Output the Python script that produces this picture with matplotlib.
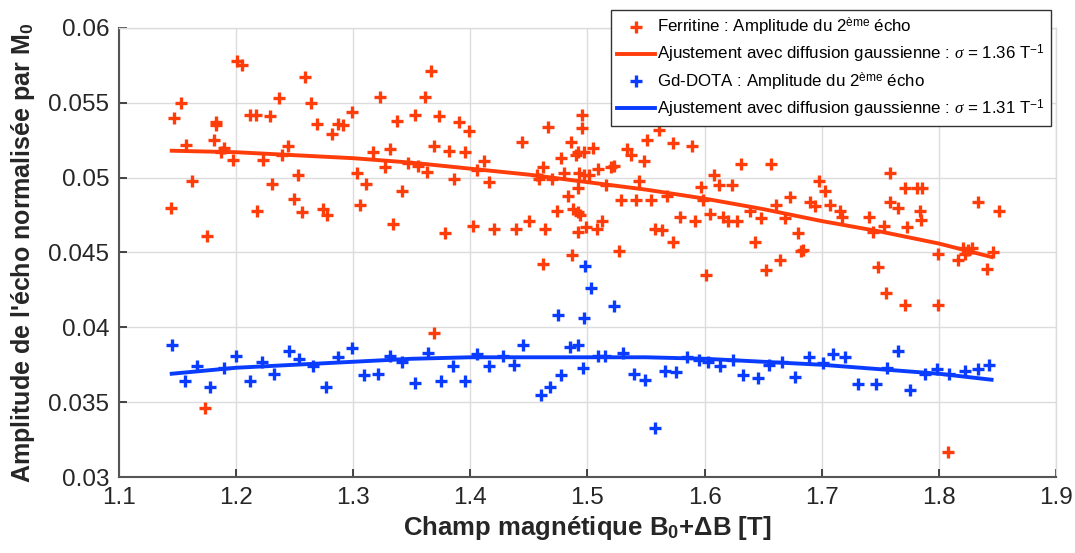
import matplotlib
matplotlib.use("Agg")
import matplotlib.pyplot as plt
import numpy as np

plt.rcParams['font.family'] = ['Liberation Sans', 'DejaVu Sans']
plt.rcParams['mathtext.fontset'] = 'custom'
plt.rcParams['mathtext.rm'] = 'Liberation Sans'
plt.rcParams['mathtext.bf'] = 'Liberation Sans:bold'
plt.rcParams['mathtext.it'] = 'Liberation Serif:italic'

# Ferritine: measured amplitude of 2nd echo
ferr_x = [1.144, 1.147, 1.153, 1.157, 1.162, 1.173, 1.175, 1.181, 1.183, 1.183,
          1.187, 1.190, 1.197, 1.201, 1.205, 1.212, 1.217, 1.218, 1.223, 1.229,
          1.231, 1.237, 1.239, 1.244, 1.249, 1.253, 1.256, 1.259, 1.264, 1.269,
          1.274, 1.278, 1.282, 1.287, 1.291, 1.299, 1.303, 1.306, 1.311, 1.317,
          1.323, 1.327, 1.331, 1.334, 1.337, 1.342, 1.347, 1.353, 1.355, 1.361,
          1.363, 1.366, 1.369, 1.369, 1.373, 1.378, 1.382, 1.386, 1.390, 1.395,
          1.399, 1.402, 1.406, 1.412, 1.416, 1.420, 1.439, 1.444, 1.450, 1.457,
          1.459, 1.462, 1.462, 1.464, 1.466, 1.470, 1.474, 1.477, 1.480, 1.483,
          1.486, 1.487, 1.488, 1.490, 1.492, 1.492, 1.492, 1.492, 1.493, 1.494,
          1.495, 1.495, 1.497, 1.497, 1.499, 1.501, 1.505, 1.508, 1.509, 1.512,
          1.516, 1.520, 1.523, 1.527, 1.529, 1.534, 1.537, 1.541, 1.544, 1.548,
          1.551, 1.554, 1.558, 1.561, 1.564, 1.568, 1.573, 1.573, 1.579, 1.589,
          1.592, 1.597, 1.599, 1.601, 1.605, 1.608, 1.612, 1.616, 1.620, 1.623,
          1.628, 1.631, 1.639, 1.643, 1.648, 1.652, 1.657, 1.661, 1.664, 1.669,
          1.673, 1.680, 1.682, 1.684, 1.690, 1.694, 1.698, 1.703, 1.707, 1.716,
          1.717, 1.740, 1.744, 1.748, 1.753, 1.755, 1.758, 1.758, 1.765, 1.771,
          1.771, 1.773, 1.781, 1.784, 1.785, 1.786, 1.799, 1.799, 1.808, 1.816,
          1.821, 1.822, 1.825, 1.828, 1.833, 1.841, 1.846, 1.851]
ferr_y = [0.0480, 0.0540, 0.0550, 0.0522, 0.0498, 0.0346, 0.0461, 0.0525, 0.0537, 0.0535,
          0.0517, 0.0520, 0.0512, 0.0578, 0.0575, 0.0542, 0.0542, 0.0478, 0.0512, 0.0541,
          0.0496, 0.0553, 0.0515, 0.0521, 0.0486, 0.0502, 0.0477, 0.0567, 0.0550, 0.0536,
          0.0479, 0.0475, 0.0529, 0.0536, 0.0535, 0.0544, 0.0503, 0.0482, 0.0496, 0.0517,
          0.0554, 0.0507, 0.0519, 0.0469, 0.0538, 0.0491, 0.0510, 0.0542, 0.0508, 0.0554,
          0.0504, 0.0571, 0.0521, 0.0396, 0.0541, 0.0463, 0.0518, 0.0499, 0.0537, 0.0517,
          0.0531, 0.0468, 0.0505, 0.0511, 0.0497, 0.0466, 0.0466, 0.0524, 0.0471, 0.0502,
          0.0499, 0.0507, 0.0442, 0.0466, 0.0534, 0.0499, 0.0478, 0.0513, 0.0503, 0.0488,
          0.0524, 0.0448, 0.0479, 0.0515, 0.0517, 0.0493, 0.0477, 0.0464, 0.0503, 0.0475,
          0.0542, 0.0533, 0.0517, 0.0502, 0.0467, 0.0502, 0.0520, 0.0466, 0.0506, 0.0471,
          0.0495, 0.0507, 0.0508, 0.0451, 0.0485, 0.0519, 0.0515, 0.0485, 0.0498, 0.0511,
          0.0525, 0.0485, 0.0466, 0.0532, 0.0465, 0.0488, 0.0523, 0.0457, 0.0474, 0.0521,
          0.0471, 0.0494, 0.0485, 0.0435, 0.0476, 0.0502, 0.0495, 0.0474, 0.0471, 0.0495,
          0.0471, 0.0509, 0.0478, 0.0457, 0.0473, 0.0438, 0.0509, 0.0482, 0.0445, 0.0473,
          0.0487, 0.0463, 0.0451, 0.0452, 0.0484, 0.0481, 0.0498, 0.0491, 0.0482, 0.0478,
          0.0474, 0.0474, 0.0464, 0.0440, 0.0468, 0.0423, 0.0503, 0.0484, 0.0480, 0.0493,
          0.0415, 0.0467, 0.0493, 0.0478, 0.0472, 0.0493, 0.0449, 0.0415, 0.0317, 0.0445,
          0.0453, 0.0449, 0.0452, 0.0453, 0.0484, 0.0439, 0.0450, 0.0478]

# Gd-DOTA: measured amplitude of 2nd echo
gd_x = [1.145, 1.156, 1.167, 1.178, 1.190, 1.200, 1.212, 1.222, 1.232, 1.245,
        1.254, 1.266, 1.277, 1.287, 1.299, 1.309, 1.321, 1.331, 1.342, 1.353,
        1.364, 1.375, 1.385, 1.395, 1.406, 1.416, 1.428, 1.437, 1.445, 1.460,
        1.468, 1.475, 1.477, 1.485, 1.492, 1.496, 1.497, 1.498, 1.503, 1.509,
        1.515, 1.523, 1.530, 1.540, 1.549, 1.558, 1.566, 1.576, 1.585, 1.595,
        1.603, 1.613, 1.624, 1.633, 1.646, 1.655, 1.666, 1.677, 1.689, 1.701,
        1.710, 1.720, 1.731, 1.746, 1.756, 1.765, 1.775, 1.788, 1.798, 1.809,
        1.822, 1.833, 1.843]
gd_y = [0.0388, 0.0364, 0.0374, 0.0360, 0.0373, 0.0381, 0.0364, 0.0377, 0.0369, 0.0384,
        0.0379, 0.0374, 0.0360, 0.0380, 0.0386, 0.0368, 0.0369, 0.0381, 0.0377, 0.0363,
        0.0383, 0.0364, 0.0374, 0.0364, 0.0382, 0.0374, 0.0381, 0.0375, 0.0388, 0.0355,
        0.0360, 0.0408, 0.0368, 0.0387, 0.0388, 0.0373, 0.0406, 0.0441, 0.0426, 0.0381,
        0.0381, 0.0414, 0.0383, 0.0369, 0.0365, 0.0333, 0.0371, 0.0370, 0.0380, 0.0378,
        0.0377, 0.0374, 0.0378, 0.0368, 0.0366, 0.0375, 0.0377, 0.0367, 0.0380, 0.0376,
        0.0382, 0.0380, 0.0362, 0.0362, 0.0373, 0.0384, 0.0358, 0.0369, 0.0372, 0.0369,
        0.0371, 0.0372, 0.0375]

# fitted curves (gaussian diffusion)
fit_x = [1.145, 1.2, 1.25, 1.3, 1.35, 1.4, 1.45, 1.5, 1.55, 1.6, 1.65, 1.7, 1.75, 1.8, 1.845]
ferr_fit = [0.0518, 0.0517, 0.0515, 0.0513, 0.0510, 0.0506, 0.0502, 0.0497, 0.0492,
            0.0486, 0.0479, 0.0471, 0.0464, 0.0456, 0.0447]
gd_fit = [0.0369, 0.0373, 0.0375, 0.0377, 0.0379, 0.0380, 0.0380, 0.0380, 0.0380,
          0.0379, 0.0377, 0.0375, 0.0372, 0.0369, 0.0365]

red = '#ff3d0a'
blue = '#0a3cff'

fig = plt.figure(figsize=(10.75, 5.53), dpi=100)
ax = fig.add_axes([0.1107, 0.1374, 0.8716, 0.812])

ax.plot(ferr_x, ferr_y, '+', color=red, ms=9, mew=2.4,
        label='Ferritine : Amplitude du 2$^{\\mathrm{ème}}$ écho')
ax.plot(fit_x, ferr_fit, '-', color=red, lw=2.8,
        label='Ajustement avec diffusion gaussienne : $\\sigma$ = 1.36 T$^{\\mathrm{-1}}$')
ax.plot(gd_x, gd_y, '+', color=blue, ms=9, mew=2.4,
        label='Gd-DOTA : Amplitude du 2$^{\\mathrm{ème}}$ écho')
ax.plot(fit_x, gd_fit, '-', color=blue, lw=2.8,
        label='Ajustement avec diffusion gaussienne : $\\sigma$ = 1.31 T$^{\\mathrm{-1}}$')

ax.set_xlim(1.1, 1.9)
ax.set_ylim(0.03, 0.06)
ax.set_xticks(np.arange(1.1, 1.91, 0.1))
ax.set_yticks([0.03, 0.035, 0.04, 0.045, 0.05, 0.055, 0.06])
ax.set_xticklabels(['1.1', '1.2', '1.3', '1.4', '1.5', '1.6', '1.7', '1.8', '1.9'])
ax.set_yticklabels(['0.03', '0.035', '0.04', '0.045', '0.05', '0.055', '0.06'])
ax.grid(True, color='#dcdcdc', lw=1)
ax.set_axisbelow(True)
ax.tick_params(direction='in', length=6, width=1.2, colors='#262626',
               labelsize=17.5, top=False, right=False, pad=7)
for s in ['left', 'bottom']:
    ax.spines[s].set_color('#555555')
    ax.spines[s].set_linewidth(1.5)
for s in ['top', 'right']:
    ax.spines[s].set_color('#dcdcdc')
    ax.spines[s].set_linewidth(1)

ax.set_xlabel('Champ magnétique B$_\\mathbf{0}$+ΔB [T]', fontsize=18.5,
              fontweight='bold', color='#262626', labelpad=4)
ax.set_ylabel("Amplitude de l'écho normalisée par M$_\\mathbf{0}$", fontsize=18,
              fontweight='bold', color='#262626', labelpad=8)

leg = ax.legend(loc='upper right', bbox_to_anchor=(1051 / 1075, 1 - 10 / 553),
                bbox_transform=fig.transFigure, fontsize=12.2, frameon=True,
                fancybox=False, edgecolor='#333333', framealpha=1,
                borderpad=0.35, labelspacing=0.3, handlelength=2.2,
                handletextpad=0.15, borderaxespad=0)
leg.get_frame().set_linewidth(1)

fig.savefig('out.png', dpi=100)
